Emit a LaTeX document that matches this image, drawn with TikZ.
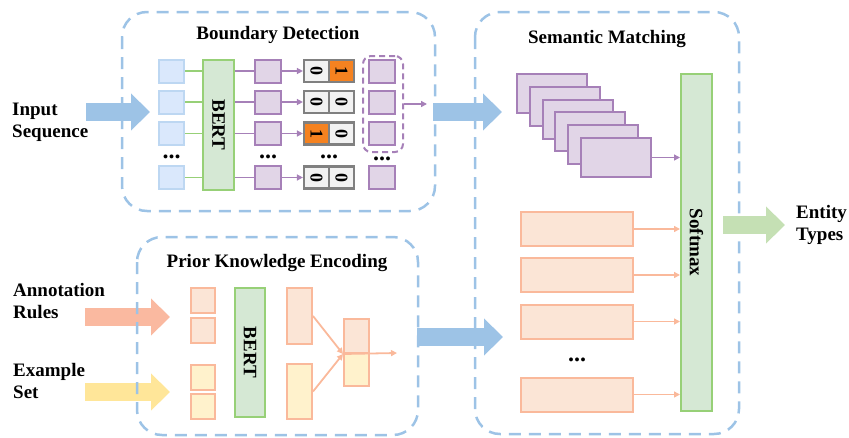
\documentclass[tikz,border=0pt]{standalone}
\usepackage{fontspec}
\setmainfont{Liberation Serif}
\usepackage{graphicx}
\usetikzlibrary{arrows.meta}

\definecolor{stageblue}{RGB}{157,195,230}
\definecolor{tokfill}{RGB}{218,232,252}
\definecolor{tokdraw}{RGB}{189,215,242}
\definecolor{bertfill}{RGB}{213,232,212}
\definecolor{bertdraw}{RGB}{151,208,119}
\definecolor{purfill}{RGB}{225,213,231}
\definecolor{purdraw}{RGB}{166,128,184}
\definecolor{peachfill}{RGB}{251,229,214}
\definecolor{peachdraw}{RGB}{250,185,155}
\definecolor{yelfill}{RGB}{255,242,204}
\definecolor{cellfill}{RGB}{242,242,242}
\definecolor{celldraw}{RGB}{128,128,128}
\definecolor{hot}{RGB}{245,130,32}
\definecolor{annotcol}{RGB}{250,185,160}
\definecolor{examplecol}{RGB}{255,230,153}
\definecolor{outgreen}{RGB}{197,224,180}

\tikzset{
    stage/.style={draw=stageblue, line width=2.5pt, dash pattern=on 12pt off 8pt, rounded corners=25pt},
    title/.style={font=\fontsize{19}{22}\selectfont\bfseries},
    lbl/.style={font=\fontsize{19}{22}\selectfont\bfseries, align=left, inner sep=0pt, anchor=west},
    dots/.style={font=\fontsize{24}{24}\selectfont\bfseries, inner sep=0pt},
    tok/.style={draw=tokdraw, fill=tokfill, line width=2pt, minimum width=25pt, minimum height=23pt, inner sep=0pt},
    bert/.style={draw=bertdraw, fill=bertfill, line width=2pt, inner sep=0pt, font=\fontsize{19}{22}\selectfont\bfseries},
    hid/.style={draw=purdraw, fill=purfill, line width=2pt, minimum width=26pt, minimum height=23pt, inner sep=0pt},
    cell/.style={draw=celldraw, fill=cellfill, line width=2.2pt, minimum width=25pt, minimum height=22pt, inner sep=0pt, font=\fontsize{18}{18}\selectfont\bfseries},
    know/.style={draw=peachdraw, fill=peachfill, line width=2pt, inner sep=0pt},
    exam/.style={draw=peachdraw, fill=yelfill, line width=2pt, inner sep=0pt},
    group/.style={draw=purdraw, line width=2pt, dash pattern=on 6pt off 4pt, rounded corners=8pt, minimum width=40pt, minimum height=96pt},
    gline/.style={draw=bertdraw, line width=1.8pt},
    pline/.style={draw=purdraw, line width=1.8pt},
    parrow/.style={draw=purdraw, line width=1.8pt, -{Triangle[length=6pt,width=6pt]}},
    karrow/.style={draw=peachdraw, line width=1.8pt, -{Triangle[length=6pt,width=6pt]}},
    bigarrow/.style={line width=18pt, -{Triangle[width=36pt,length=19pt]}}
}

\begin{document}
\begin{tikzpicture}[x=1pt, y=-1pt]
        \useasboundingbox (0,0) rectangle (849,437);

        % Big arrows
        \coordinate (inTail) at (86,112);
        \coordinate (inTip) at (150,112);
        \coordinate (bdTail) at (433,112);
        \coordinate (bdTip) at (502,112);
        \coordinate (pkTail) at (417,337);
        \coordinate (pkTip) at (503,337);
        \coordinate (anTail) at (85,317);
        \coordinate (anTip) at (170,317);
        \coordinate (exTail) at (85,392);
        \coordinate (exTip) at (170,392);
        \draw[bigarrow, stageblue] (inTail) -- (inTip);
        \draw[bigarrow, stageblue] (bdTail) -- (bdTip);
        \draw[bigarrow, stageblue] (pkTail) -- (pkTip);
        \draw[bigarrow, annotcol] (anTail) -- (anTip);
        \draw[bigarrow, examplecol] (exTail) -- (exTip);

        % Stages
        \draw[stage] (122,12) rectangle (435,211);
        \draw[stage] (475,12) rectangle (739,434);
        \draw[stage] (137,237) rectangle (418,435);
        \node[title] (bdTitle) at (278,35) {Boundary Detection};
        \node[title] (smTitle) at (607,39) {Semantic Matching};
        \node[title] (pkTitle) at (277,263) {Prior Knowledge Encoding};

        % Outside labels
        \node[lbl] (inseq) at (12,122) {Input\\Sequence};
        \node[lbl] (annot) at (13,301) {Annotation\\Rules};
        \node[lbl] (examp) at (13,381) {Example\\Set};
        \node[lbl] (types) at (796,225) {Entity\\Types};

        % Boundary detection nodes
        \node[tok] (in1) at (171.5,71) {};
        \node[tok] (in2) at (171.5,102) {};
        \node[tok] (in3) at (171.5,133.5) {};
        \node[dots] (indots) at (171.5,157) {...};
        \node[tok] (in4) at (171.5,177.5) {};
        \node[bert, minimum width=31pt, minimum height=130pt] (bert1) at (218.5,125) {\rotatebox{-90}{BERT}};
        \node[hid] (h1) at (268,71) {};
        \node[hid] (h2) at (268,102) {};
        \node[hid] (h3) at (268,133.5) {};
        \node[dots] (hdots) at (268,157) {...};
        \node[hid] (h4) at (268,177.5) {};
        \node[cell] (c1a) at (316.5,71) {\rotatebox{-90}{0}};
        \node[cell, fill=hot] (c1b) at (341.5,71) {\rotatebox{-90}{1}};
        \node[cell] (c2a) at (316.5,102) {\rotatebox{-90}{0}};
        \node[cell] (c2b) at (341.5,102) {\rotatebox{-90}{0}};
        \node[cell, fill=hot] (c3a) at (316.5,133.5) {\rotatebox{-90}{1}};
        \node[cell] (c3b) at (341.5,133.5) {\rotatebox{-90}{0}};
        \node[dots] (cdots) at (329,157) {...};
        \node[cell] (c4a) at (316.5,177.5) {\rotatebox{-90}{0}};
        \node[cell] (c4b) at (341.5,177.5) {\rotatebox{-90}{0}};
        \node[hid] (o1) at (382,71) {};
        \node[hid] (o2) at (382,102) {};
        \node[hid] (o3) at (382,133.5) {};
        \node[dots] (odots) at (382,159) {...};
        \node[hid] (o4) at (382,177.5) {};
        \node[group] (grp) at (383,104) {};
        \coordinate (grpOut) at (427,104);

        % Boundary detection lines
        \draw[gline] (in1) -- (bert1.west |- in1);
        \draw[gline] (in2) -- (bert1.west |- in2);
        \draw[gline] (in3) -- (bert1.west |- in3);
        \draw[gline] (in4) -- (bert1.west |- in4);
        \draw[pline] (bert1.east |- h1) -- (h1);
        \draw[pline] (bert1.east |- h2) -- (h2);
        \draw[pline] (bert1.east |- h3) -- (h3);
        \draw[pline] (bert1.east |- h4) -- (h4);
        \draw[parrow] (h1) -- (c1a);
        \draw[parrow] (h2) -- (c2a);
        \draw[parrow] (h3) -- (c3a);
        \draw[parrow] (h4) -- (c4a);
        \draw[parrow] (grp) -- (grpOut);

        % Semantic matching nodes
        \node[hid, minimum width=70pt, minimum height=39pt] (s1) at (552,93.5) {};
        \node[hid, minimum width=70pt, minimum height=39pt] (s2) at (564.8,106.3) {};
        \node[hid, minimum width=70pt, minimum height=39pt] (s3) at (577.6,119.1) {};
        \node[hid, minimum width=70pt, minimum height=39pt] (s4) at (590.4,131.9) {};
        \node[hid, minimum width=70pt, minimum height=39pt] (s5) at (603.2,144.7) {};
        \node[hid, minimum width=70pt, minimum height=39pt] (s6) at (616,157.5) {};
        \node[bert, minimum width=31pt, minimum height=337pt] (soft) at (696.5,242.5) {\rotatebox{-90}{Softmax}};
        \node[know, minimum width=112pt, minimum height=34pt] (r1) at (577,229) {};
        \node[know, minimum width=112pt, minimum height=34pt] (r2) at (577,275) {};
        \node[know, minimum width=112pt, minimum height=34pt] (r3) at (577,321.5) {};
        \node[dots] (rdots) at (577,360) {...};
        \node[know, minimum width=112pt, minimum height=34pt] (r4) at (577,394.5) {};

        % Semantic matching lines
        \draw[parrow] (s6) -- (soft.west |- s6);
        \draw[karrow] (r1) -- (soft.west |- r1);
        \draw[karrow] (r2) -- (soft.west |- r2);
        \draw[karrow] (r3) -- (soft.west |- r3);
        \draw[karrow] (r4) -- (soft.west |- r4);
        \draw[bigarrow, outgreen] ([xshift=10pt]soft.east |- types.west) -- ([xshift=-11pt]types.west);

        % Prior knowledge nodes
        \node[know, minimum width=24pt, minimum height=25pt] (p1) at (203,300.5) {};
        \node[know, minimum width=24pt, minimum height=25pt] (p2) at (203,330.5) {};
        \node[exam, minimum width=24pt, minimum height=25pt] (p3) at (203,377) {};
        \node[exam, minimum width=24pt, minimum height=25pt] (p4) at (203,406) {};
        \node[bert, minimum width=30pt, minimum height=129pt] (bert2) at (250,352.5) {\rotatebox{-90}{BERT}};
        \node[know, minimum width=25pt, minimum height=56pt] (t1) at (299.5,316) {};
        \node[exam, minimum width=25pt, minimum height=55pt] (t2) at (299.5,391.5) {};
        \node[know, minimum width=25pt, minimum height=34pt] (m1) at (356.5,336) {};
        \node[exam, minimum width=25pt, minimum height=33pt] (m2) at (356.5,369.5) {};
        \coordinate (pkOut) at (397,353);

        % Prior knowledge lines
        \draw[karrow] (t1.east) -- (m1.south west);
        \draw[karrow] (t2.east) -- (m1.south west);
        \draw[karrow] (m1.south west) -- (pkOut);
    \end{tikzpicture}
\end{document}
